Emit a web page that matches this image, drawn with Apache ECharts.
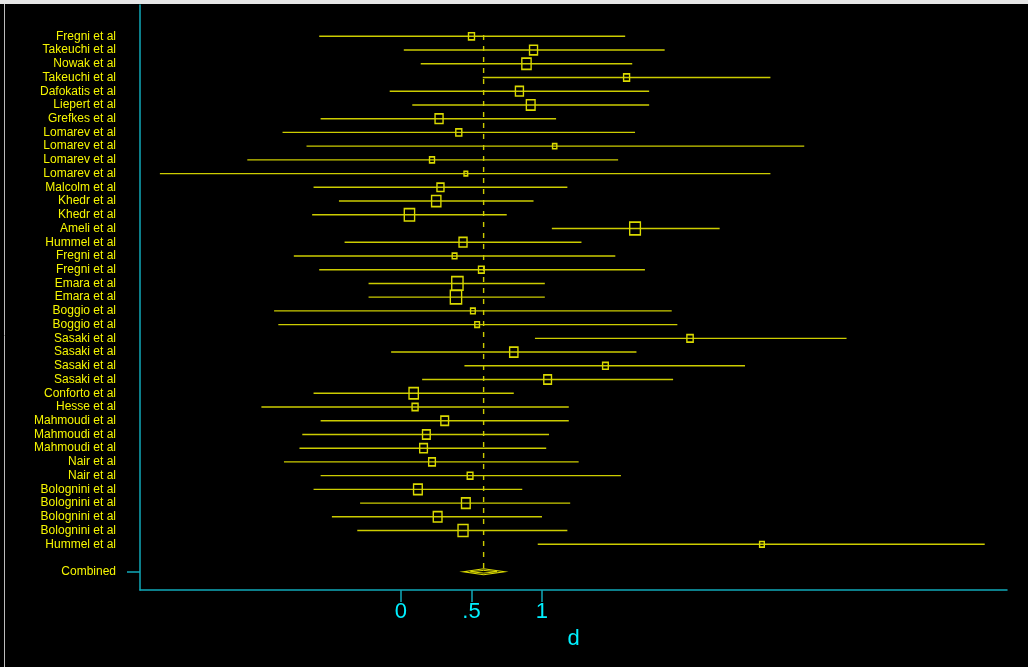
<!DOCTYPE html>
<html>
<head>
<meta charset="utf-8">
<script src="https://cdn.jsdelivr.net/npm/echarts@6/dist/echarts.min.js"></script>
<style>
html,body{margin:0;padding:0;background:#000;}
#chart{width:1028px;height:667px;}
</style>
</head>
<body>
<div id="chart"></div>
<script>
// ---- data ----
const studies = ["Fregni et al","Takeuchi et al","Nowak et al","Takeuchi et al","Dafokatis et al","Liepert et al","Grefkes et al","Lomarev et al","Lomarev et al","Lomarev et al","Lomarev et al","Malcolm et al","Khedr et al","Khedr et al","Ameli et al","Hummel et al","Fregni et al","Fregni et al","Emara et al","Emara et al","Boggio et al","Boggio et al","Sasaki et al","Sasaki et al","Sasaki et al","Sasaki et al","Conforto et al","Hesse et al","Mahmoudi et al","Mahmoudi et al","Mahmoudi et al","Nair et al","Nair et al","Bolognini et al","Bolognini et al","Bolognini et al","Bolognini et al","Hummel et al"];
const effect = [0.50,0.94,0.89,1.60,0.84,0.92,0.27,0.41,1.09,0.22,0.46,0.28,0.25,0.06,1.66,0.44,0.38,0.57,0.40,0.39,0.51,0.54,2.05,0.80,1.45,1.04,0.09,0.10,0.31,0.18,0.16,0.22,0.49,0.12,0.46,0.26,0.44,2.56];
const lower  = [-0.58,0.02,0.14,0.58,-0.08,0.08,-0.57,-0.84,-0.67,-1.09,-1.71,-0.62,-0.44,-0.63,1.07,-0.40,-0.76,-0.58,-0.23,-0.23,-0.90,-0.87,0.95,-0.07,0.45,0.15,-0.62,-0.99,-0.57,-0.70,-0.72,-0.83,-0.57,-0.62,-0.29,-0.49,-0.31,0.97];
const upper  = [1.59,1.87,1.64,2.62,1.76,1.76,1.10,1.66,2.86,1.54,2.62,1.18,0.94,0.75,2.26,1.28,1.52,1.73,1.02,1.02,1.92,1.96,3.16,1.67,2.44,1.93,0.80,1.19,1.19,1.05,1.03,1.26,1.56,0.86,1.20,1.00,1.18,4.14];
const weight = [6,8,9.3,6,8,8.7,8,6,4.3,5,3.7,7,9.3,10.3,10.7,8,4.7,5.7,11.3,11.3,4.7,4.7,6.3,8.3,5.7,7.7,9.3,6,7.7,7.7,7.7,6.7,5.7,8.7,8.7,8.7,10,4.7];
const combinedLabel = "Combined";
const combined = {est: 0.586, lo: 0.442, hi: 0.733};
const xTicks = [0, 0.5, 1];
const xTickLabels = {"0": "0", "0.5": ".5", "1": "1"};
const axisName = "d";

// ---- build ----
const combinedRow = studies.length + 2;
const rowLabels = {};
studies.forEach((s, i) => { rowLabels[i + 1] = s; });
rowLabels[combinedRow] = combinedLabel;
const labelRows = studies.map((s, i) => i + 1).concat([combinedRow]);

const YEL_TEXT = '#f6f600';
const YEL_LINE = '#cccc00';
const YEL_BOX = '#dada00';
const CYAN_LINE = '#10a9b9';
const CYAN_TEXT = '#00f0ff';

const ciData = studies.map((s, i) => [lower[i], upper[i], i + 1]);
const boxData = studies.map((s, i) => ({value: [effect[i], i + 1], w: weight[i]}));

const chart = echarts.init(document.getElementById('chart'), null, {renderer: 'canvas'});
chart.setOption({
  backgroundColor: '#000',
  animation: false,
  graphic: [
    {type: 'rect', left: 0, top: 0, shape: {width: 1028, height: 4}, style: {fill: '#e6e6e6'}, silent: true},
    {type: 'line', shape: {x1: 4.5, y1: 4, x2: 4.5, y2: 667}, style: {stroke: '#bdbdbd', lineWidth: 1}, silent: true}
  ],
  grid: {left: 140, right: 21, top: 5, bottom: 77},
  xAxis: {
    type: 'value', min: -1.851, max: 4.298,
    name: axisName, nameLocation: 'middle', nameGap: 34,
    nameTextStyle: {color: CYAN_TEXT, fontSize: 22, fontFamily: 'Liberation Sans, Arial'},
    axisLine: {show: true, onZero: false, lineStyle: {color: CYAN_LINE, width: 1.5}},
    axisTick: {show: true, customValues: xTicks, length: 12, lineStyle: {color: CYAN_LINE, width: 1.5}},
    axisLabel: {show: true, customValues: xTicks, margin: 11, color: CYAN_TEXT, fontSize: 22,
      fontFamily: 'Liberation Sans, Arial', formatter: v => xTickLabels[String(v)] ?? String(v)},
    splitLine: {show: false}
  },
  yAxis: {
    type: 'value', inverse: true, min: -1.28, max: 41.33,
    axisLine: {show: true, onZero: false, lineStyle: {color: CYAN_LINE, width: 1.5}},
    axisTick: {show: true, customValues: [combinedRow], length: 13, lineStyle: {color: CYAN_LINE, width: 1.5}},
    axisLabel: {show: true, customValues: labelRows, margin: 24, color: YEL_TEXT, fontSize: 12,
      fontFamily: 'Liberation Sans, Arial', formatter: v => rowLabels[v] || ''},
    splitLine: {show: false}
  },
  series: [
    {
      type: 'custom', data: ciData, silent: true, z: 2,
      renderItem: (params, api) => {
        const a = api.coord([api.value(0), api.value(2)]);
        const b = api.coord([api.value(1), api.value(2)]);
        return {type: 'line', shape: {x1: a[0], y1: a[1], x2: b[0], y2: b[1]},
          style: {stroke: YEL_LINE, lineWidth: 1.4}};
      }
    },
    {
      type: 'line', silent: true, z: 3, symbol: 'none',
      data: [[combined.est, 0.9], [combined.est, combinedRow - 0.2]],
      lineStyle: {color: YEL_LINE, width: 1.4, type: [5, 6]}
    },
    {
      type: 'scatter', silent: true, z: 4, symbol: 'rect',
      data: boxData,
      symbolSize: (val, p) => [p.data.w, p.data.w * 1.2],
      itemStyle: {color: 'rgba(0,0,0,0)', borderColor: YEL_BOX, borderWidth: 1.5, opacity: 1}
    },
    {
      type: 'custom', silent: true, z: 5,
      data: [[combined.lo, combined.est, combined.hi, combinedRow]],
      renderItem: (params, api) => {
        const row = api.value(3);
        const l = api.coord([api.value(0), row]);
        const c = api.coord([api.value(1), row]);
        const r = api.coord([api.value(2), row]);
        const h = 3;
        const pts = [[l[0], l[1]], [c[0], c[1] - h], [r[0], r[1]], [c[0], c[1] + h]];
        const inner = [[l[0] + (c[0]-l[0])*0.35, l[1]], [c[0], c[1] - h*0.45], [r[0] - (r[0]-c[0])*0.35, r[1]], [c[0], c[1] + h*0.45]];
        return {type: 'group', children: [
          {type: 'polygon', shape: {points: pts}, style: {fill: 'none', stroke: YEL_BOX, lineWidth: 1.2}},
          {type: 'polygon', shape: {points: inner}, style: {fill: 'none', stroke: YEL_BOX, lineWidth: 1}}
        ]};
      }
    }
  ]
});
</script>
</body>
</html>
